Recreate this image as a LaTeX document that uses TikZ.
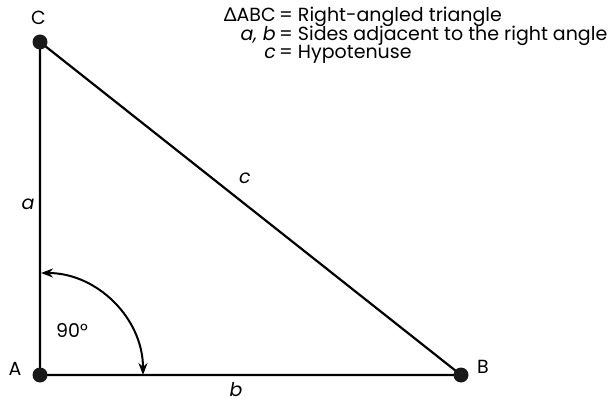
\documentclass[tikz,border=0pt]{standalone}
\usepackage{fontspec}
\setmainfont{Poppins}
\newfontfamily\greekfont{Lato}
\usetikzlibrary{arrows.meta}
\tikzset{
  lbl/.style={font=\fontsize{19}{22}\selectfont, inner sep=0pt, anchor=base},
  side/.style={line width=2.2pt, line cap=round},
  vdot/.style={circle, fill=black!90, inner sep=0pt, minimum size=15pt},
  angarrow/.style={line width=2pt, {Stealth[length=12pt,width=9pt]}-{Stealth[length=12pt,width=9pt]}}
}
\begin{document}
\begin{tikzpicture}[x=1pt,y=-1pt]
\useasboundingbox (0,0) rectangle (610,403);
\coordinate (A) at (40,375);
\coordinate (B) at (461,375);
\coordinate (C) at (40,42);
\draw[side] (C) -- (A) -- (B) -- cycle;
\node[vdot] (dA) at (A) {};
\node[vdot] (dB) at (B) {};
\node[vdot] (dC) at (C) {};
\coordinate (arcS) at (41,273);
\draw[angarrow] (arcS) arc[start angle=-90, end angle=0, radius=102];
\node[lbl] (lC) at (38.5,25) {C};
\node[lbl] (lA) at (15,375) {A};
\node[lbl] (lB) at (483,373) {B};
\node[lbl] (la) at (28,210) {\itshape a};
\node[lbl] (lc) at (245,184) {\itshape c};
\node[lbl] (lb) at (236,396) {\itshape b};
\node[lbl] (l90) at (72,337) {90°};
\node[lbl, anchor=base east] (k1) at (276,22) {{\greekfont Δ}ABC};
\node[lbl, anchor=base west] (v1) at (279,22) {= Right-angled triangle};
\node[lbl, anchor=base east] (k2) at (276,41) {\itshape a, b};
\node[lbl, anchor=base west] (v2) at (279,41) {= Sides adjacent to the right angle};
\node[lbl, anchor=base east] (k3) at (276,59) {\itshape c};
\node[lbl, anchor=base west] (v3) at (279,59) {= Hypotenuse};
\end{tikzpicture}
\end{document}
